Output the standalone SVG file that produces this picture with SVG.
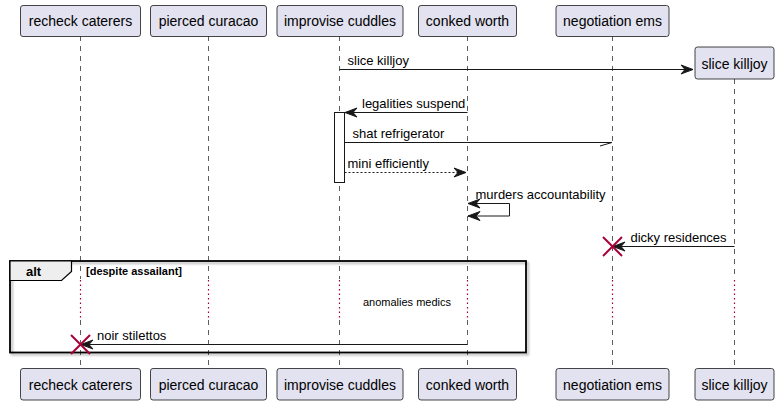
<svg xmlns="http://www.w3.org/2000/svg" width="779" height="405" viewBox="0 0 779 405">
<defs>
<style>
.p rect{fill:#E2E2F0;stroke:#181818;stroke-width:0.8}
.p text{font-family:"Liberation Sans",Arial,sans-serif;font-size:14px;fill:#000;text-anchor:middle}
.life{stroke:#181818;stroke-width:0.7;stroke-dasharray:5,5;fill:none}
.dot{stroke:#A80036;stroke-width:1.2;stroke-dasharray:1.5,3;fill:none}
.m{stroke:#181818;stroke-width:1;fill:none}
.md{stroke:#181818;stroke-width:1;fill:none;stroke-dasharray:2,2}
.ah{fill:#181818;stroke:#181818;stroke-width:1}
.t{font-family:"Liberation Sans",Arial,sans-serif;font-size:13px;fill:#000}
.x{stroke:#A80036;stroke-width:2}
</style>
<filter id="sh" x="-5%" y="-5%" width="110%" height="115%"><feDropShadow dx="2" dy="2" stdDeviation="1" flood-color="#000" flood-opacity="0.3"/></filter>
</defs>
<rect width="779" height="405" fill="#fff"/>
<g id="lifelines">
<line class="life" x1="80.5" y1="36" x2="80.5" y2="279"/>
<line class="dot" x1="80.5" y1="280" x2="80.5" y2="320"/>
<line class="life" x1="80.5" y1="320" x2="80.5" y2="368"/>
<line class="life" x1="208.5" y1="36" x2="208.5" y2="279"/>
<line class="dot" x1="208.5" y1="280" x2="208.5" y2="320"/>
<line class="life" x1="208.5" y1="320" x2="208.5" y2="368"/>
<line class="life" x1="339.5" y1="36" x2="339.5" y2="279"/>
<line class="dot" x1="339.5" y1="280" x2="339.5" y2="320"/>
<line class="life" x1="339.5" y1="320" x2="339.5" y2="368"/>
<line class="life" x1="467.5" y1="36" x2="467.5" y2="279"/>
<line class="dot" x1="467.5" y1="280" x2="467.5" y2="320"/>
<line class="life" x1="467.5" y1="320" x2="467.5" y2="368"/>
<line class="life" x1="612.5" y1="36" x2="612.5" y2="279"/>
<line class="dot" x1="612.5" y1="280" x2="612.5" y2="320"/>
<line class="life" x1="612.5" y1="320" x2="612.5" y2="368"/>
<line class="life" x1="734.5" y1="79" x2="734.5" y2="279"/>
<line class="dot" x1="734.5" y1="280" x2="734.5" y2="320"/>
<line class="life" x1="734.5" y1="320" x2="734.5" y2="368"/>
</g>
<g id="frame-alt">
<rect x="10" y="261" width="516" height="91.5" fill="none" stroke="#000" stroke-width="1.8" filter="url(#sh)"/>
<path d="M10,261 L71.5,261 L71.5,271.5 L61.5,280.5 L10,280.5 Z" fill="#EEEEEE" stroke="#000" stroke-width="1.2"/>
<text x="26" y="275.5" style="font-family:'Liberation Sans',Arial,sans-serif;font-size:13px;font-weight:bold">alt</text>
<text x="86" y="274.5" style="font-family:'Liberation Sans',Arial,sans-serif;font-size:11px;font-weight:bold">[despite assailant]</text>
<text x="407" y="306" text-anchor="middle" style="font-family:'Liberation Sans',Arial,sans-serif;font-size:11px">anomalies medics</text>
</g>
<g id="activation">
<rect x="334.5" y="112.5" width="10" height="70" fill="#fff" stroke="#181818" stroke-width="1"/>
</g>
<g id="connectors">
<line class="m" x1="339.5" y1="69.5" x2="693" y2="69.5"/>
<polygon class="ah" points="693,69.5 681,65 685,69.5 681,74"/>
<text class="t" x="347.5" y="65">slice killjoy</text>

<line class="m" x1="467.5" y1="112.5" x2="345" y2="112.5"/>
<polygon class="ah" points="345,112.5 357,108 353,112.5 357,117"/>
<text class="t" x="362" y="108">legalities suspend</text>

<line class="m" x1="344.5" y1="142.5" x2="612" y2="142.5"/>
<line class="m" x1="600" y1="146" x2="612" y2="142.5"/>
<text class="t" x="352.5" y="138">shat refrigerator</text>

<line class="md" x1="344.5" y1="172.5" x2="466" y2="172.5"/>
<polygon class="ah" points="466,172.5 454,168 458,172.5 454,177"/>
<text class="t" x="347.5" y="168">mini efficiently</text>

<polyline class="m" points="468,203.5 509.5,203.5 509.5,216 468,216"/>
<polygon class="ah" points="468,203.5 480,199 476,203.5 480,208"/>
<polygon class="ah" points="468,216 480,211.5 476,216 480,220.5"/>
<text class="t" x="475.5" y="198.5">murders accountability</text>

<line class="m" x1="734.5" y1="246.5" x2="613" y2="246.5"/>
<polygon class="ah" points="613,246.5 625,242 621,246.5 625,251"/>
<text class="t" x="630.5" y="242">dicky residences</text>
<line class="x" x1="603" y1="237" x2="622" y2="256"/>
<line class="x" x1="622" y1="237" x2="603" y2="256"/>

<line class="m" x1="467.5" y1="344.5" x2="81" y2="344.5"/>
<polygon class="ah" points="81,344.5 93,340 89,344.5 93,349"/>
<text class="t" x="97" y="339.5">noir stilettos</text>
<line class="x" x1="71" y1="335" x2="90" y2="354"/>
<line class="x" x1="90" y1="335" x2="71" y2="354"/>
</g>
<g id="p-recheck-caterers" class="p">
<rect x="20.5" y="5.5" width="120" height="31" rx="2.5"/><text x="80.5" y="26">recheck caterers</text>
<rect x="20.5" y="368.5" width="120" height="31.5" rx="2.5"/><text x="80.5" y="389.5">recheck caterers</text>
</g>
<g id="p-pierced-curacao" class="p">
<rect x="150.5" y="5.5" width="116" height="31" rx="2.5"/><text x="208.5" y="26">pierced curacao</text>
<rect x="150.5" y="368.5" width="116" height="31.5" rx="2.5"/><text x="208.5" y="389.5">pierced curacao</text>
</g>
<g id="p-improvise-cuddles" class="p">
<rect x="277" y="5.5" width="126" height="31" rx="2.5"/><text x="340" y="26">improvise cuddles</text>
<rect x="277" y="368.5" width="126" height="31.5" rx="2.5"/><text x="340" y="389.5">improvise cuddles</text>
</g>
<g id="p-conked-worth" class="p">
<rect x="418.5" y="5.5" width="98" height="31" rx="2.5"/><text x="467.5" y="26">conked worth</text>
<rect x="418.5" y="368.5" width="98" height="31.5" rx="2.5"/><text x="467.5" y="389.5">conked worth</text>
</g>
<g id="p-negotiation-ems" class="p">
<rect x="556" y="5.5" width="113" height="31" rx="2.5"/><text x="612.5" y="26">negotiation ems</text>
<rect x="556" y="368.5" width="113" height="31.5" rx="2.5"/><text x="612.5" y="389.5">negotiation ems</text>
</g>
<g id="p-slice-killjoy" class="p">
<rect x="695" y="47" width="79" height="32" rx="2.5"/><text x="734.5" y="68.5">slice killjoy</text>
<rect x="695" y="368.5" width="79" height="31.5" rx="2.5"/><text x="734.5" y="389.5">slice killjoy</text>
</g>
</svg>
